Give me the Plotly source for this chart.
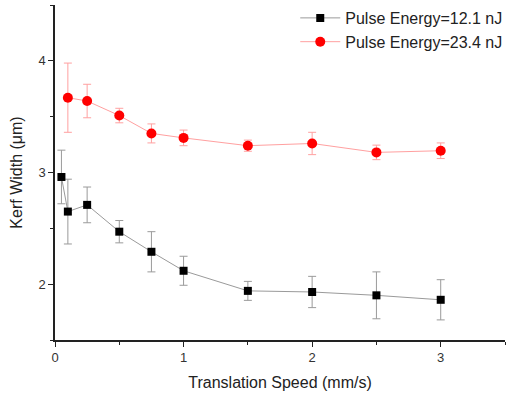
import plotly.graph_objects as go

# Pulse Energy = 12.1 nJ
speed_low = [0.05, 0.1, 0.25, 0.5, 0.75, 1.0, 1.5, 2.0, 2.5, 3.0]
kerf_low = [2.96, 2.65, 2.71, 2.47, 2.29, 2.12, 1.94, 1.93, 1.90, 1.86]
err_low = [0.24, 0.29, 0.16, 0.10, 0.18, 0.13, 0.085, 0.14, 0.21, 0.18]

# Pulse Energy = 23.4 nJ
speed_high = [0.1, 0.25, 0.5, 0.75, 1.0, 1.5, 2.0, 2.5, 3.0]
kerf_high = [3.67, 3.64, 3.51, 3.35, 3.31, 3.24, 3.26, 3.18, 3.195]
err_high = [0.31, 0.15, 0.065, 0.085, 0.07, 0.05, 0.10, 0.065, 0.07]

font_family = "Liberation Sans, Arial, sans-serif"

fig = go.Figure()
fig.add_trace(go.Scatter(
    x=speed_low, y=kerf_low, name="Pulse Energy=12.1 nJ",
    mode="lines+markers",
    line=dict(color="#9a9a9a", width=1),
    marker=dict(symbol="square", size=8, color="black"),
    error_y=dict(type="data", array=err_low, visible=True,
                 color="#9a9a9a", thickness=1, width=4),
))
fig.add_trace(go.Scatter(
    x=speed_high, y=kerf_high, name="Pulse Energy=23.4 nJ",
    mode="lines+markers",
    line=dict(color="#ffa0a0", width=1),
    marker=dict(symbol="circle", size=10, color="red"),
    error_y=dict(type="data", array=err_high, visible=True,
                 color="#ffa0a0", thickness=1, width=4),
))

axis_common = dict(
    showline=True, linecolor="#222", linewidth=1.5,
    ticks="outside", ticklen=5, tickwidth=1.2, tickcolor="#222",
    showgrid=False, zeroline=False, mirror=False,
    tickfont=dict(family=font_family, size=13, color="#333"),
    minor=dict(ticks="outside", ticklen=3, tickwidth=1, tickcolor="#222", dtick=0.5),
)

fig.update_layout(
    width=509, height=395,
    margin=dict(l=55, r=4, t=5, b=55, autoexpand=False),
    paper_bgcolor="white", plot_bgcolor="white",
    font=dict(family=font_family, color="#222"),
    xaxis=dict(range=[0, 3.5], dtick=1, tick0=0,
               title=dict(text="Translation Speed (mm/s)", font=dict(size=16, color="#222"), standoff=12),
               **axis_common),
    yaxis=dict(range=[1.5, 4.5], dtick=1, tick0=0,
               title=dict(text="Kerf Width (μm)", font=dict(size=16, color="#222"), standoff=12),
               **axis_common),
    legend=dict(x=1.005, y=1.012, xanchor="right", yanchor="top",
                font=dict(family=font_family, size=16, color="#222"),
                bgcolor="rgba(0,0,0,0)", tracegroupgap=0, itemwidth=40),
    showlegend=True,
)

fig.write_html("out.html")
